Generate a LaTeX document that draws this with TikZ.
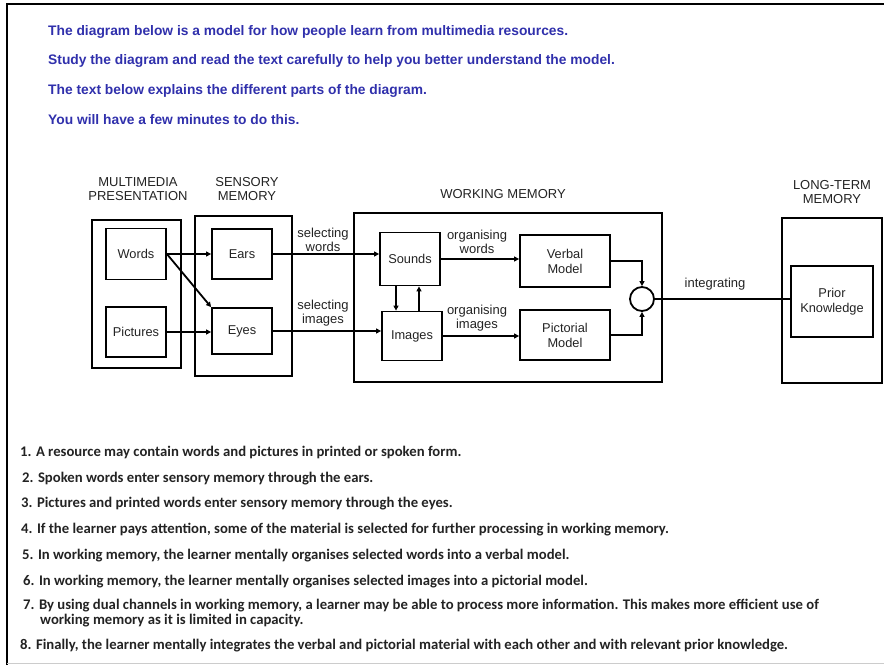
\documentclass[tikz,border=0pt]{standalone}
\usepackage{fontspec}
\setmainfont{Liberation Sans}
\newfontfamily\notefont{Carlito}
\usetikzlibrary{arrows.meta}
\definecolor{headblue}{RGB}{48,48,172}
\definecolor{inkgray}{RGB}{35,35,35}

\begin{document}
\begin{tikzpicture}[x=1pt,y=-1pt,
    box/.style={draw,line width=1.8pt,inner sep=0pt,align=center,
      font=\fontsize{12.8}{15}\selectfont,text=inkgray},
    conn/.style={line width=1.8pt,-{Triangle[length=5pt,width=5pt]}},
    lbl/.style={align=center,font=\fontsize{13}{14.5}\selectfont,text=inkgray},
    head/.style={anchor=base west,inner sep=0pt,font=\fontsize{13.8}{16}\selectfont\bfseries,text=headblue},
    note/.style={anchor=base west,inner sep=0pt,align=left,font=\notefont\bfseries\fontsize{14.7}{15}\selectfont,text=inkgray}]
  \useasboundingbox (0,0) rectangle (884,667);
  % page frame
  \draw[line width=2.6pt] (7,665) -- (7,4) -- (884,4);
  \draw[line width=0.6pt,black!20] (7,663) -- (884,663);

  % instructions
  \node[head] (h1) at (48,35) {The diagram below is a model for how people learn from multimedia resources.};
  \node[head] (h2) at (48,64) {Study the diagram and read the text carefully to help you better understand the model.};
  \node[head] (h3) at (48,94) {The text below explains the different parts of the diagram.};
  \node[head] (h4) at (48,124) {You will have a few minutes to do this.};

  % stage headings
  \node[lbl] (tmp) at (138,189) {MULTIMEDIA\\PRESENTATION};
  \node[lbl] (tsm) at (247,189) {SENSORY\\MEMORY};
  \node[lbl] (twm) at (503,194) {WORKING MEMORY};
  \node[lbl] (tltm) at (832,192) {LONG-TERM\\MEMORY};

  % outer stage boxes
  \node[box,minimum width=89pt,minimum height=148pt] (mp) at (136.5,294) {};
  \node[box,minimum width=97pt,minimum height=160pt] (sm) at (243.5,296) {};
  \node[box,minimum width=308pt,minimum height=169pt] (wm) at (508,297.5) {};
  \node[box,minimum width=100pt,minimum height=165pt] (ltm) at (832,300.5) {};

  % inner boxes
  \node[box,minimum width=60pt,minimum height=51pt] (words) at (136,254) {Words};
  \node[box,minimum width=60pt,minimum height=50pt] (pictures) at (136,332) {Pictures};
  \node[box,minimum width=60pt,minimum height=50pt] (ears) at (242,254) {Ears};
  \node[box,minimum width=60pt,minimum height=46pt] (eyes) at (242,331) {Eyes};
  \node[box,minimum width=60pt,minimum height=53pt] (sounds) at (410,259) {Sounds};
  \node[box,minimum width=60pt,minimum height=49pt] (images) at (412,336) {Images};
  \node[box,minimum width=90pt,minimum height=52pt] (verbal) at (565,261) {Verbal\\Model};
  \node[box,minimum width=90pt,minimum height=50pt] (pictorial) at (565,335) {Pictorial\\Model};
  \node[box,circle,minimum size=24pt] (merge) at (642,299) {};
  \node[box,minimum width=82pt,minimum height=71pt] (prior) at (832,301.5) {Prior\\Knowledge};

  % arrow labels
  \node[lbl] (lsw) at (323,240) {selecting\\words};
  \node[lbl] (lsi) at (323,313) {selecting\\images};
  \node[lbl] (low) at (477,242) {organising\\words};
  \node[lbl] (loi) at (477,318) {organising\\images};
  \node[lbl] (lint) at (715,284) {integrating};

  % connectors
  \draw[conn] (words.east) -- (ears.west);
  \draw[conn] (words.east) -- (eyes.north west);
  \draw[conn] (pictures.east) -- (pictures.east -| eyes.west);
  \draw[conn] (ears.east) -- (ears.east -| sounds.west);
  \draw[conn] (eyes.east) -- (eyes.east -| images.west);
  \draw[conn] ([xshift=-14pt]sounds.south) -- ([xshift=-14pt]sounds.south |- images.north);
  \draw[conn] ([xshift=7pt]images.north) -- ([xshift=7pt]images.north |- sounds.south);
  \draw[conn] (sounds.east) -- (sounds.east -| verbal.west);
  \draw[conn] (images.east) -- (images.east -| pictorial.west);
  \draw[conn] (verbal.east) -| (merge.north);
  \draw[conn] (pictorial.east) -| (merge.south);
  \draw[line width=1.8pt] (merge.east) -- (merge.east -| prior.west);

  % numbered notes
  \node[note] (n1) at (20,456) {1. A resource may contain words and pictures in printed or spoken form.};
  \node[note] (n2) at (22,482) {2. Spoken words enter sensory memory through the ears.};
  \node[note] (n3) at (21,507) {3. Pictures and printed words enter sensory memory through the eyes.};
  \node[note] (n4) at (21,533) {4. If the learner pays attention, some of the material is selected for further processing in working memory.};
  \node[note] (n5) at (22,559) {5. In working memory, the learner mentally organises selected words into a verbal model.};
  \node[note] (n6) at (23,585) {6. In working memory, the learner mentally organises selected images into a pictorial model.};
  \node[note] (n7) at (23,609) {7. By using dual channels in working memory, a learner may be able to process more information. This makes more efficient use of};
  \node[note] (n7b) at (40,624) {working memory as it is limited in capacity.};
  \node[note] (n8) at (20,649) {8. Finally, the learner mentally integrates the verbal and pictorial material with each other and with relevant prior knowledge.};
\end{tikzpicture}
\end{document}
